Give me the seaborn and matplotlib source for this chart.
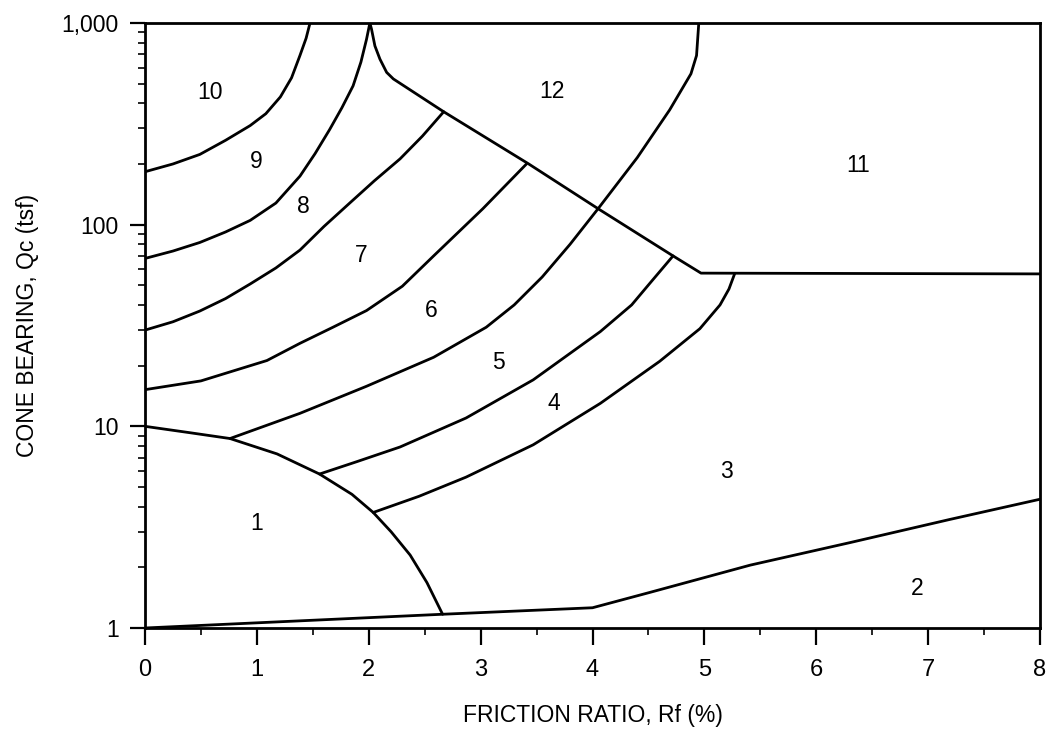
import numpy as np
import pandas as pd
import matplotlib
matplotlib.use("Agg")
import matplotlib.pyplot as plt
import matplotlib.ticker as mticker
import seaborn as sns

# ---- data (Rf in %, Qc in tsf) ----
zone1_top_rf = [0, 0.4, 0.76, 1.18, 1.56, 1.85, 2.04, 2.2, 2.37, 2.52, 2.66]
zone1_top_qc = [10, 9.3, 8.7, 7.3, 5.8, 4.6, 3.74, 3.0, 2.3, 1.68, 1.17]

bottom_rf = [0, 2.66, 4.0, 4.51, 5.41, 6.30, 7.19, 8.0]
bottom_qc = [1.0, 1.17, 1.26, 1.5, 2.05, 2.65, 3.45, 4.35]

b34_rf = [2.04, 2.45, 2.87, 3.47, 4.07, 4.6, 4.96, 5.14, 5.22, 5.27]
b34_qc = [3.74, 4.5, 5.6, 8.1, 13.0, 21.0, 30.5, 40.0, 48.0, 57.0]

b45_rf = [1.56, 1.9, 2.28, 2.87, 3.47, 4.07, 4.35, 4.51, 4.72]
b45_qc = [5.8, 6.7, 7.9, 11.0, 17.0, 29.5, 40.0, 51.0, 70.0]

b56_rf = [0.76, 1.385, 1.98, 2.58, 3.05, 3.3, 3.55, 3.8, 4.05, 4.4, 4.69, 4.88, 4.93, 4.95]
b56_qc = [8.7, 11.6, 15.8, 22.0, 31.0, 40.0, 55.0, 80.0, 120.0, 215.0, 371.0, 560.0, 690.0, 1000.0]

b67_rf = [0, 0.5, 1.09, 1.385, 1.68, 1.98, 2.3, 2.58, 3.02, 3.41]
b67_qc = [15.2, 16.8, 21.2, 25.8, 31.0, 37.5, 49.5, 70.0, 120.0, 200.0]

b78_rf = [0, 0.25, 0.49, 0.72, 0.94, 1.17, 1.385, 1.6, 1.83, 2.05, 2.28, 2.48, 2.67]
b78_qc = [30.0, 33.0, 37.3, 43.0, 50.8, 61.0, 74.8, 98.0, 128.0, 165.0, 212.0, 275.0, 363.0]

b89_rf = [0, 0.25, 0.49, 0.72, 0.94, 1.17, 1.385, 1.52, 1.65, 1.76, 1.86, 1.93, 1.98, 2.01]
b89_qc = [68.0, 74.0, 81.6, 92.0, 105.0, 128.0, 174.0, 225.0, 296.0, 380.0, 488.0, 640.0, 830.0, 1000.0]

b910_rf = [0, 0.25, 0.49, 0.72, 0.94, 1.08, 1.21, 1.31, 1.385, 1.44, 1.475]
b910_qc = [183.0, 200.0, 223.0, 262.0, 310.0, 355.0, 430.0, 535.0, 690.0, 840.0, 1000.0]

b12_rf = [2.01, 2.025, 2.055, 2.1, 2.16, 2.22, 2.67, 3.43, 4.05, 4.72, 4.97, 8.0]
b12_qc = [1000.0, 931.0, 770.0, 662.0, 569.0, 528.0, 363.0, 200.0, 120.0, 70.0, 57.5, 57.0]

zone_ids = ["1", "2", "3", "4", "5", "6", "7", "8", "9", "10", "11", "12"]
zone_rf = [1.0, 6.9, 5.2, 3.65, 3.16, 2.56, 1.93, 1.42, 0.99, 0.58, 6.37, 3.64]
zone_qc = [3.3, 1.57, 6.0, 13.0, 20.7, 37.6, 70.0, 123.0, 205.0, 450.0, 197.0, 459.0]

x_ticks = [0, 1, 2, 3, 4, 5, 6, 7, 8]
y_ticks = [1, 10, 100, 1000]

x_label = "FRICTION RATIO, Rf (%)"
y_label = "CONE BEARING, Qc (tsf)"

# ---- build long table ----
curves = {
    "zone1_top": (zone1_top_rf, zone1_top_qc),
    "bottom": (bottom_rf, bottom_qc),
    "b34": (b34_rf, b34_qc),
    "b45": (b45_rf, b45_qc),
    "b56": (b56_rf, b56_qc),
    "b67": (b67_rf, b67_qc),
    "b78": (b78_rf, b78_qc),
    "b89": (b89_rf, b89_qc),
    "b910": (b910_rf, b910_qc),
    "b12": (b12_rf, b12_qc),
}
frames = []
for name, (xs, ys) in curves.items():
    frames.append(pd.DataFrame({"boundary": name, "rf": xs, "qc": ys}))
df = pd.concat(frames, ignore_index=True)

sns.set_theme(style="ticks")
plt.rcParams["font.family"] = ["Liberation Sans", "DejaVu Sans"]

fig = plt.figure(figsize=(10.51, 7.36), dpi=100)
W, H = 1051, 736
left, right, top, bottom = 145, 1040, 23, 628
ax = fig.add_axes([left / W, 1 - bottom / H, (right - left) / W, (bottom - top) / H])

sns.lineplot(data=df, x="rf", y="qc", units="boundary", estimator=None,
             sort=False, color="black", linewidth=2.0, ax=ax, legend=False)

ax.set_yscale("log")
ax.set_xlim(0, 8)
ax.set_ylim(1, 1000)

for zid, zx, zy in zip(zone_ids, zone_rf, zone_qc):
    ax.text(zx, zy, zid, ha="center", va="center", fontsize=16.5, color="black")

ax.xaxis.set_major_locator(mticker.FixedLocator(x_ticks))
ax.xaxis.set_minor_locator(mticker.MultipleLocator(0.5))
ax.yaxis.set_major_locator(mticker.FixedLocator(y_ticks))
ax.yaxis.set_minor_locator(mticker.LogLocator(base=10, subs=np.arange(2, 10)))
ax.yaxis.set_minor_formatter(mticker.NullFormatter())
ax.yaxis.set_major_formatter(mticker.FuncFormatter(lambda v, p: f"{v:,.0f}"))
ax.xaxis.set_major_formatter(mticker.FuncFormatter(lambda v, p: f"{v:.0f}"))

ax.tick_params(axis="x", which="major", direction="out", length=12, width=1.6,
               labelsize=17, pad=10, colors="black")
ax.tick_params(axis="x", which="minor", direction="out", length=5, width=1.4)
ax.tick_params(axis="y", which="major", direction="out", length=11, width=1.6,
               labelsize=16.5, pad=8, colors="black")
ax.tick_params(axis="y", which="minor", direction="out", length=5, width=1.4)

for s in ax.spines.values():
    s.set_visible(True)
    s.set_linewidth(2.0)
    s.set_color("black")

ax.set_xlabel(x_label, fontsize=16.5, labelpad=17, color="black")
ax.set_ylabel(y_label, fontsize=16.5, labelpad=16, color="black")
ax.grid(False)
ax.set_facecolor("white")
fig.patch.set_facecolor("white")

fig.savefig("out.png", dpi=100)
